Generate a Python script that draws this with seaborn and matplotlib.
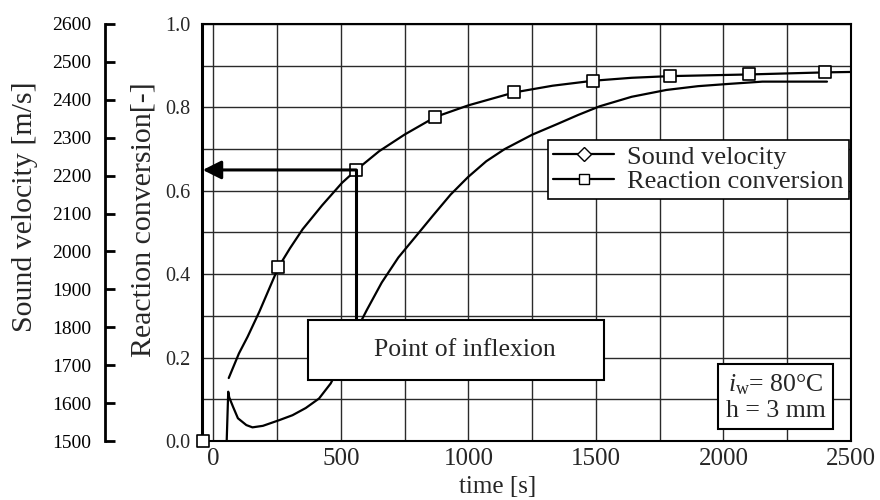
import matplotlib
matplotlib.use("Agg")
import matplotlib.pyplot as plt
from matplotlib.lines import Line2D
from matplotlib.patches import Rectangle
import numpy as np
import pandas as pd
import seaborn as sns

# reaction conversion curve [-]
conv_time = [60, 100, 134, 180, 255, 300, 350, 426, 504, 560, 650, 750, 870,
             1000, 1180, 1330, 1490, 1640, 1790, 2100, 2400, 2500]
conv_value = [0.151, 0.21, 0.25, 0.31, 0.417, 0.462, 0.508, 0.565, 0.619,
              0.65, 0.695, 0.735, 0.777, 0.805, 0.836, 0.852, 0.864, 0.871,
              0.875, 0.879, 0.884, 0.885]
# square markers of the conversion series
mark_time = [-40, 255, 560, 870, 1180, 1490, 1790, 2100, 2400]
mark_value = [0.0, 0.417, 0.65, 0.777, 0.836, 0.864, 0.875, 0.879, 0.884]

# sound velocity curve [m/s]
vel_time = [52, 58, 62, 77, 96, 129, 153, 194, 258, 310, 362, 414, 460, 500,
            550, 601, 660, 725, 800, 860, 930, 998, 1070, 1142, 1250, 1348,
            1430, 1515, 1640, 1776, 1900, 2021, 2153, 2406]
vel_value = [1500, 1630, 1615, 1590, 1560, 1542, 1536, 1540, 1555, 1568, 1587,
             1612, 1652, 1705, 1778, 1845, 1918, 1984, 2045, 2094, 2150, 2196,
             2238, 2270, 2308, 2336, 2360, 2383, 2408, 2426, 2436, 2442, 2448,
             2448]

inflexion_idx = 2  # marker at the point of inflexion

sns.set_theme(style="white")
plt.rcParams["font.family"] = ["Liberation Serif", "DejaVu Serif"]
plt.rcParams["mathtext.fontset"] = "custom"
plt.rcParams["mathtext.rm"] = "Liberation Serif"
plt.rcParams["mathtext.it"] = "Liberation Serif:italic"

fig = plt.figure(figsize=(8.8, 5.0), dpi=100)
ax = fig.add_axes([0.2295, 0.118, 0.7375, 0.834])

df_conv = pd.DataFrame({"t": conv_time, "c": conv_value})
df_mark = pd.DataFrame({"t": mark_time, "c": mark_value})
df_vel = pd.DataFrame({"t": vel_time, "v": vel_value})

sns.lineplot(data=df_conv, x="t", y="c", ax=ax, color="black", lw=1.6,
             zorder=3)
sns.scatterplot(data=df_mark, x="t", y="c", ax=ax, marker="s", s=80,
                facecolor="white", edgecolor="black", linewidth=1.2,
                zorder=4, clip_on=False)

ax.set_xlim(-45, 2500)
ax.set_ylim(0, 1.0)
ax.set_xticks(np.arange(0, 2501, 500))
ax.set_xticks(np.arange(250, 2500, 250), minor=True)
ax.set_yticks(np.arange(0, 1.01, 0.2))
ax.set_yticks(np.arange(0.1, 1.0, 0.2), minor=True)
ax.set_yticklabels([f"{v:.1f}" for v in np.arange(0, 1.01, 0.2)])
ax.grid(True, which="both", color="#2a2a2a", lw=1.0)
ax.tick_params(axis="both", which="both", length=0)
ax.tick_params(axis="x", labelsize=18, pad=5)
ax.tick_params(axis="y", labelsize=14.5, pad=8)
for s in ax.spines.values():
    s.set_color("black")
    s.set_linewidth(1.5)
ax.spines["left"].set_linewidth(2.2)
ax.set_xlabel("time [s]", fontsize=18, va="top")
ax.xaxis.set_label_coords(0.456, -0.083)
ax.set_ylabel("Reaction conversion[-]", fontsize=21.5)
ax.yaxis.set_label_coords(-0.070, 0.53)

# outer sound velocity axis
ax2 = ax.twinx()
sns.lineplot(data=df_vel, x="t", y="v", ax=ax2, color="black", lw=1.6,
             zorder=3)
ax2.set_ylim(1500, 2600)
ax2.set_yticks(np.arange(1500, 2601, 100))
ax2.yaxis.set_ticks_position("left")
ax2.yaxis.set_label_position("left")
ax2.spines["left"].set_position(("axes", -0.149))
ax2.spines["left"].set_linewidth(2)
ax2.spines["left"].set_color("black")
for k in ["right", "top", "bottom"]:
    ax2.spines[k].set_visible(False)
ax2.tick_params(axis="y", direction="in", length=7, width=2, labelsize=14,
                pad=10, colors="black")
ax2.set_ylabel("Sound velocity [m/s]", fontsize=21.5)
ax2.yaxis.set_label_coords(-0.253, 0.561)
ax2.set_xlabel("")

# arrow and line at the point of inflexion
t_inf = mark_time[inflexion_idx]
c_inf = mark_value[inflexion_idx]
ax.annotate("", xy=(-42, c_inf), xytext=(t_inf, c_inf),
            arrowprops=dict(arrowstyle="-|>", color="black", lw=2.2,
                            mutation_scale=28, shrinkA=0, shrinkB=0),
            zorder=5)
ax.plot([t_inf, t_inf], [c_inf, 0.29], color="black", lw=2.2, zorder=5)

ax2.add_patch(Rectangle((0.164, 0.146), 0.455, 0.144, transform=ax2.transAxes,
                        facecolor="white", edgecolor="black", lw=1.5,
                        zorder=6))
ax2.text(0.405, 0.218, "Point of inflexion", transform=ax2.transAxes,
         ha="center", va="center", fontsize=18.5, zorder=7)

ax2.text(0.884, 0.105, "$i_\\mathrm{w}$= 80°C\nh = 3 mm",
         transform=ax2.transAxes, ha="center", va="center", fontsize=18.5,
         linespacing=1.15, zorder=7,
         bbox=dict(boxstyle="square,pad=0.3", facecolor="white",
                   edgecolor="black", lw=1.5))

handles = [
    Line2D([], [], color="black", lw=1.6, marker="D", markersize=7.5,
           markerfacecolor="white", markeredgecolor="black"),
    Line2D([], [], color="black", lw=1.6, marker="s", markersize=7.5,
           markerfacecolor="white", markeredgecolor="black"),
]
leg = ax2.legend(handles, ["Sound velocity", "Reaction conversion"],
                 loc="upper right", bbox_to_anchor=(0.997, 0.722),
                 fontsize=19, frameon=True, fancybox=False, framealpha=1,
                 edgecolor="black", handlelength=2.3, handletextpad=0.5,
                 borderpad=0.2, labelspacing=0.05, borderaxespad=0)
leg.get_frame().set_linewidth(1.2)
leg.set_zorder(8)

fig.savefig("out.png", dpi=100)
